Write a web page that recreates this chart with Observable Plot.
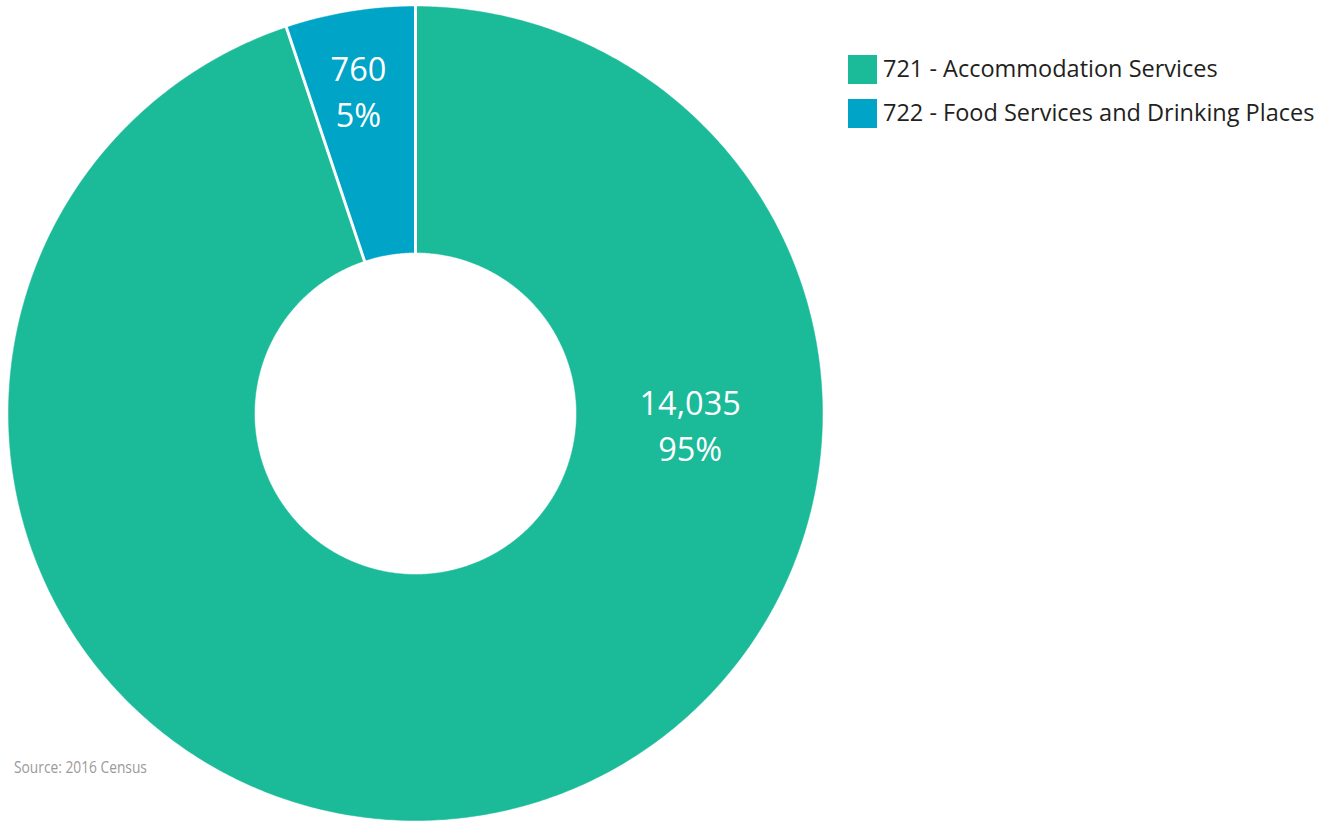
<!DOCTYPE html>
<html>
<head>
<meta charset="utf-8">
<script src="https://cdn.jsdelivr.net/npm/d3@7"></script>
<script src="https://cdn.jsdelivr.net/npm/@observablehq/plot@0.6"></script>
<style>
  html, body { margin: 0; padding: 0; background: #fff; }
  #wrap { position: relative; width: 1329px; height: 821px; overflow: hidden; }
  #legend { position: absolute; left: 848px; top: 55px; font-family: "Open Sans", sans-serif; font-size: 23.5px; color: #231f20; }
  .item { display: flex; align-items: center; height: 29px; margin-bottom: 15px; white-space: nowrap; }
  .item span.t { position: relative; top: -2px; }
  .sw { width: 29px; height: 29px; margin-right: 6px; flex: none; }
  #source { position: absolute; left: 14px; top: 755px; font-family: "Open Sans", sans-serif; font-size: 17px; color: #9a9a9a; transform: scaleX(0.81); transform-origin: left top; white-space: nowrap; }
</style>
</head>
<body>
<div id="wrap">
  <div id="chart"></div>
  <div id="legend"></div>
  <div id="source">Source: 2016 Census</div>
</div>
<script>
const categories = ["721 - Accommodation Services", "722 - Food Services and Drinking Places"];
const values = [14035, 760];
const percentLabels = ["95%", "5%"];
const colors = ["#1bba99", "#00a4c6"];

const W = 1329, H = 821;
const cx = 415, cy = 413, R = 407, r0 = 161;
const total = d3.sum(values);

// Build slice polygons (angles clockwise from 12 o'clock)
const polys = [];
let acc = 0;
const labelPts = [];
values.forEach((v, i) => {
  const a0 = acc / total * 2 * Math.PI;
  const a1 = (acc + v) / total * 2 * Math.PI;
  acc += v;
  const n = Math.max(4, Math.ceil((a1 - a0) / (Math.PI / 360)));
  const pts = [];
  for (let k = 0; k <= n; k++) {
    const a = a0 + (a1 - a0) * k / n;
    pts.push({cat: categories[i], x: cx + R * Math.sin(a), y: cy - R * Math.cos(a)});
  }
  for (let k = n; k >= 0; k--) {
    const a = a0 + (a1 - a0) * k / n;
    pts.push({cat: categories[i], x: cx + r0 * Math.sin(a), y: cy - r0 * Math.cos(a)});
  }
  pts.push(pts[0]);
  polys.push(...pts);
  // label placement
  let am, rr;
  if (v / total > 0.5) { am = Math.PI / 2 + 0.051; rr = 275; }
  else { am = (a0 + a1) / 2 - 2 * Math.PI - 0.015; rr = 325; }
  labelPts.push({x: cx + rr * Math.sin(am), y: cy - rr * Math.cos(am), value: d3.format(",")(v), pct: percentLabels[i]});
});

// Separator lines (white) between slices
const seps = [];
acc = 0;
values.forEach((v, i) => {
  const a = acc / total * 2 * Math.PI;
  acc += v;
  seps.push({id: i, x: cx + r0 * Math.sin(a), y: cy - r0 * Math.cos(a)});
  seps.push({id: i, x: cx + R * Math.sin(a), y: cy - R * Math.cos(a)});
});

const chart = Plot.plot({
  width: W, height: H,
  margin: 0,
  x: {domain: [0, W], range: [0, W], axis: null},
  y: {domain: [0, H], range: [0, H], axis: null},
  color: {domain: categories, range: colors},
  style: {background: "transparent"},
  marks: [
    Plot.line(polys, {x: "x", y: "y", z: "cat", fill: "cat", stroke: "cat", strokeWidth: 0.5, curve: "linear"}),
    Plot.line(seps, {x: "x", y: "y", z: "id", stroke: "white", strokeWidth: 3}),
    Plot.text(labelPts, {x: "x", y: "y", text: "value", dy: -23, fill: "white", fontSize: 32.5, fontFamily: "Open Sans", textAnchor: "middle"}),
    Plot.text(labelPts, {x: "x", y: "y", text: "pct", dy: 23, fill: "white", fontSize: 32.5, fontFamily: "Open Sans", textAnchor: "middle"})
  ]
});
document.getElementById("chart").appendChild(chart);

const legend = document.getElementById("legend");
categories.forEach((c, i) => {
  const d = document.createElement("div");
  d.className = "item";
  d.innerHTML = `<span class="sw" style="background:${colors[i]}"></span><span class="t">${c}</span>`;
  legend.appendChild(d);
});
</script>
</body>
</html>
